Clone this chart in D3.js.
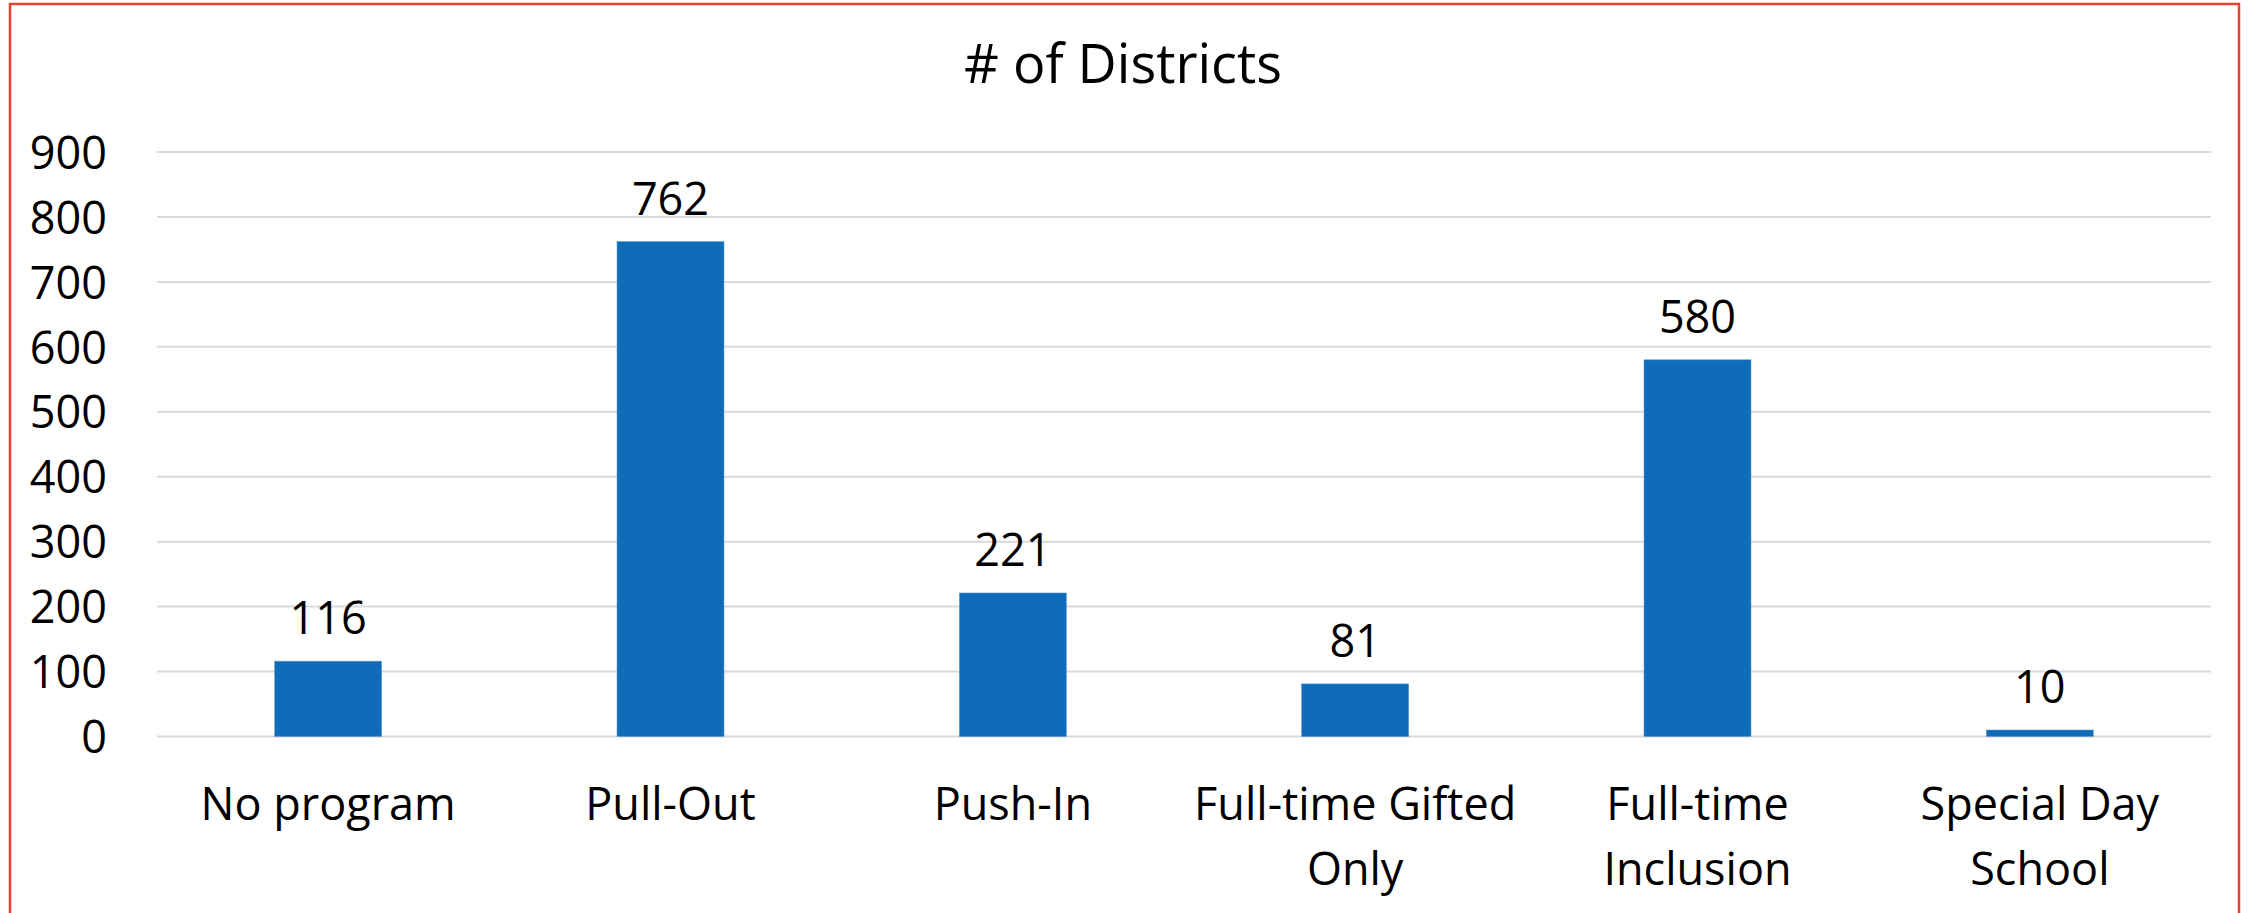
<!DOCTYPE html>
<html>
<head>
<meta charset="utf-8">
<script src="https://cdn.jsdelivr.net/npm/d3@7"></script>
<style>
  html, body { margin: 0; padding: 0; background: #fff; overflow: hidden; }
  text { font-family: "Open Sans", sans-serif; fill: #000; }
</style>
</head>
<body>
<svg id="chart" width="2249" height="913"></svg>
<script>
// data
var categories = ["No program", "Pull-Out", "Push-In", "Full-time Gifted\nOnly", "Full-time\nInclusion", "Special Day\nSchool"];
var districts = [116, 762, 221, 81, 580, 10];
var yTicks = [0, 100, 200, 300, 400, 500, 600, 700, 800, 900];
var title = "# of Districts";

var W = 2249, H = 913;
var plot = {left: 157, right: 2211, top: 152, bottom: 736.5};
var fontSize = 45;

var svg = d3.select("#chart");

// outer frame (bottom edge runs off the picture)
svg.append("rect")
    .attr("x", 10).attr("y", 4)
    .attr("width", 2229).attr("height", 1000)
    .attr("fill", "none")
    .attr("stroke", "#e5432f")
    .attr("stroke-width", 2.5);

var x = d3.scaleBand()
    .domain(categories)
    .range([plot.left, plot.right])
    .padding(0);

var y = d3.scaleLinear()
    .domain([0, 900])
    .range([plot.bottom, plot.top]);

var barW = x.bandwidth() * 0.3125;

// gridlines
svg.append("g").selectAll("line")
    .data(yTicks)
    .join("line")
    .attr("x1", plot.left).attr("x2", plot.right)
    .attr("y1", d => y(d)).attr("y2", d => y(d))
    .attr("stroke", "#d9d9d9")
    .attr("stroke-width", 2);

// y axis labels
var yAxis = d3.axisLeft(y).tickValues(yTicks).tickSize(0).tickPadding(0);
var ya = svg.append("g")
    .attr("transform", "translate(107,0)")
    .call(yAxis);
ya.select(".domain").remove();
ya.selectAll("text")
    .attr("font-size", fontSize)
    .attr("font-family", "Open Sans")
    .attr("fill", "#000")
    .attr("dy", "0.36em");

// bars
svg.append("g").selectAll("rect")
    .data(districts)
    .join("rect")
    .attr("x", (d, i) => x(categories[i]) + x.bandwidth() / 2 - barW / 2)
    .attr("y", d => y(d))
    .attr("width", barW)
    .attr("height", d => y(0) - y(d))
    .attr("fill", "#0f6cb9")
    .attr("stroke", "#5b9bd5")
    .attr("stroke-width", 0.6);

// value labels
svg.append("g").selectAll("text")
    .data(districts)
    .join("text")
    .attr("x", (d, i) => x(categories[i]) + x.bandwidth() / 2)
    .attr("y", d => y(d) - 27)
    .attr("text-anchor", "middle")
    .attr("font-size", fontSize)
    .text(d => d);

// category labels
var cat = svg.append("g").selectAll("text")
    .data(categories)
    .join("text")
    .attr("x", d => x(d) + x.bandwidth() / 2)
    .attr("y", 820)
    .attr("text-anchor", "middle")
    .attr("font-size", fontSize);
cat.selectAll("tspan")
    .data(d => d.split("\n"))
    .join("tspan")
    .attr("x", function () { return this.parentNode.getAttribute("x"); })
    .attr("dy", (d, i) => i ? 65 : 0)
    .text(d => d);

// title
svg.append("text")
    .attr("x", 1123)
    .attr("y", 83)
    .attr("text-anchor", "middle")
    .attr("font-size", 54)
    .text(title);
</script>
</body>
</html>
